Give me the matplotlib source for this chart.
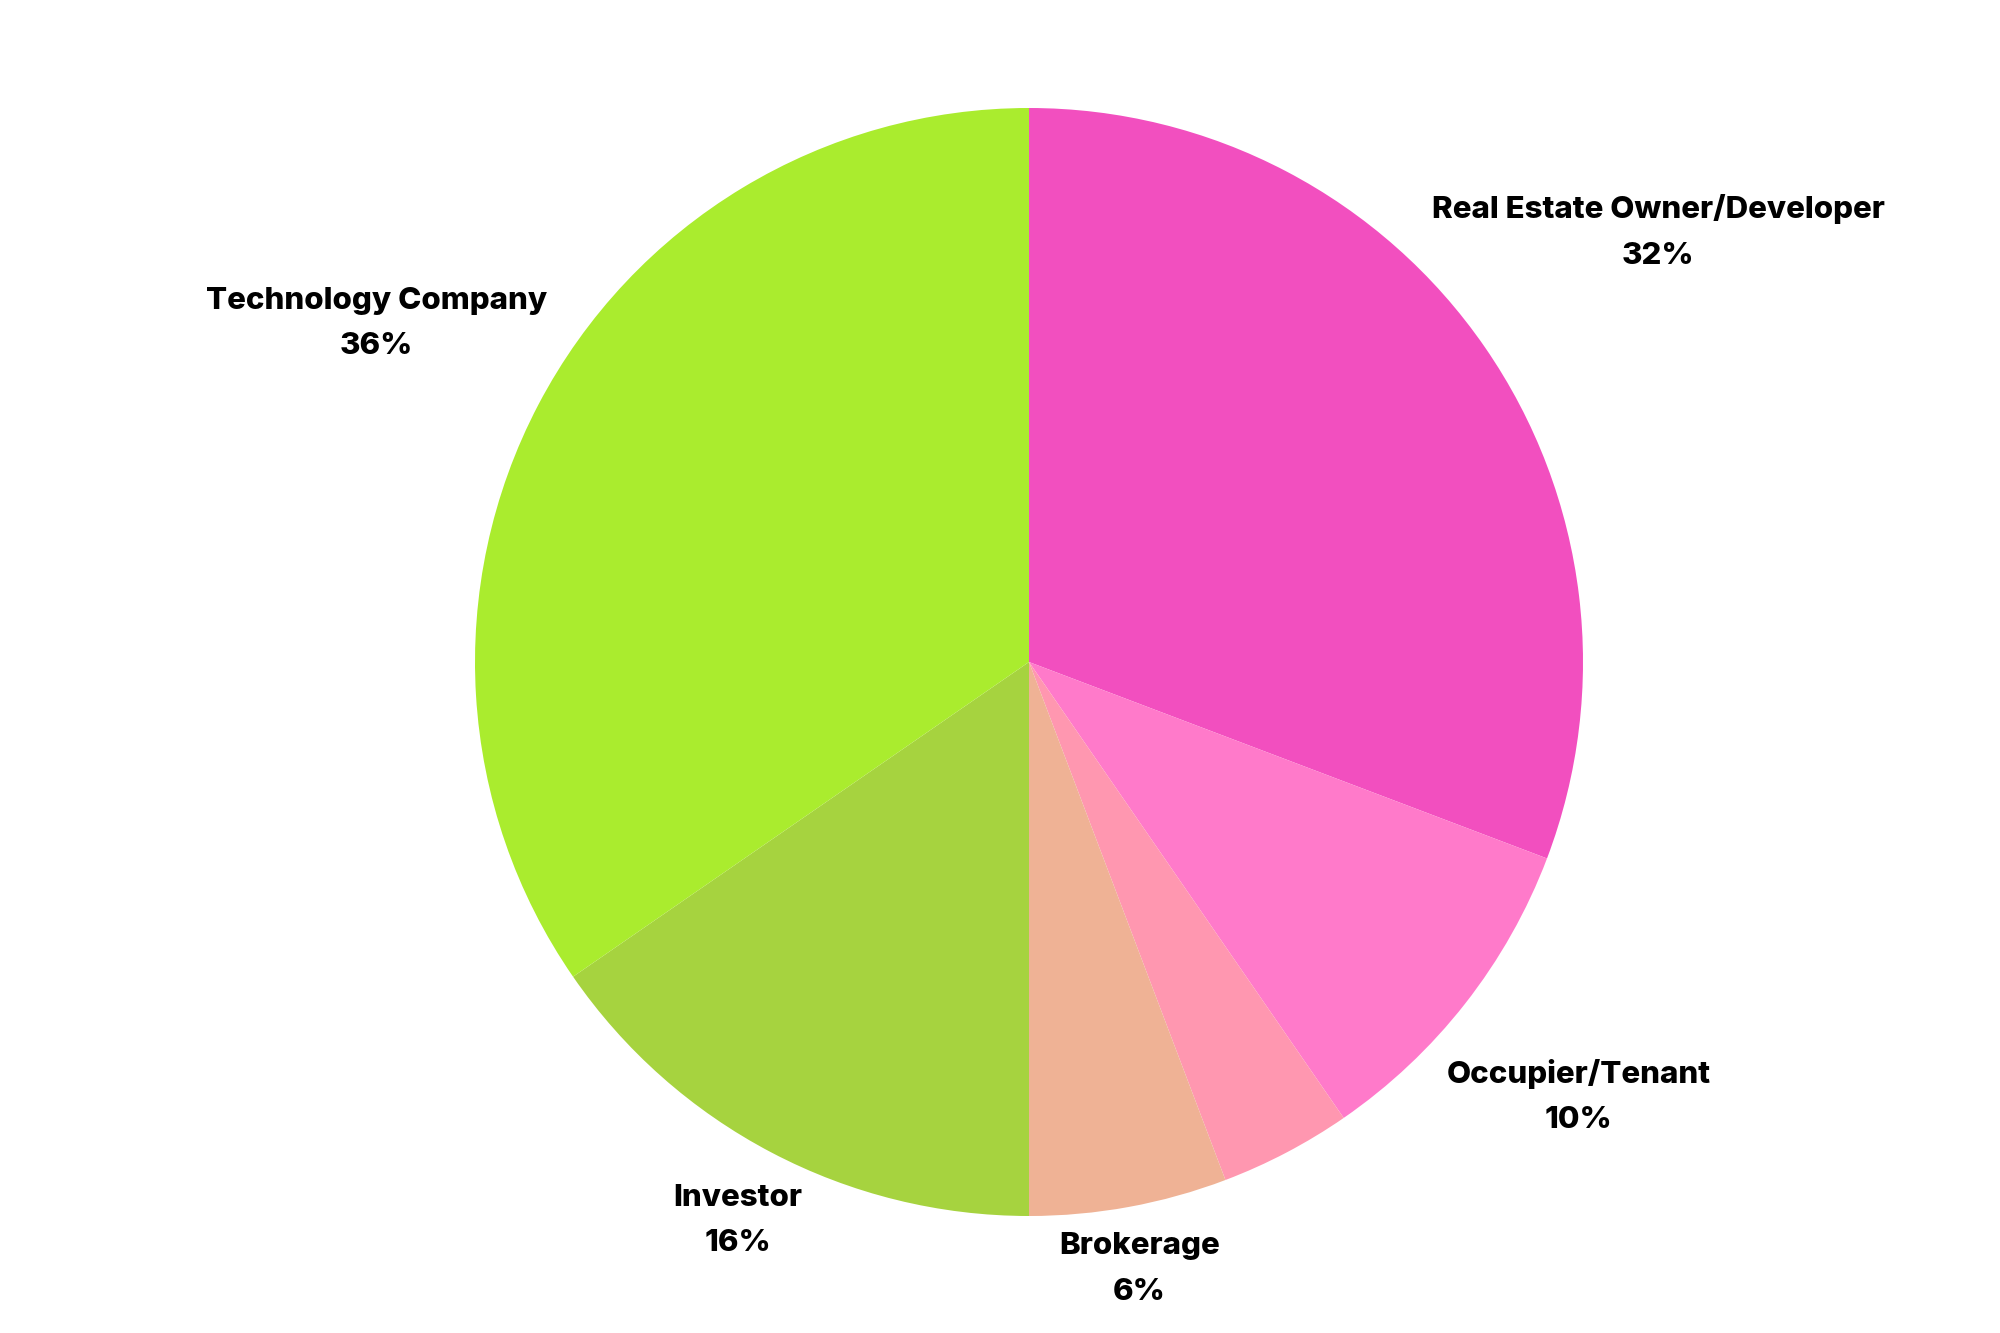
import numpy as np
import matplotlib
matplotlib.use("Agg")
import matplotlib.pyplot as plt

categories = ["Real Estate Owner/Developer", "Occupier/Tenant", "", "Brokerage", "Investor", "Technology Company"]
values = [16, 5, 2, 3, 8, 18]
pct_labels = ["32%", "10%", "", "6%", "16%", "36%"]
colors = ["#F24FBF", "#FF7ACA", "#FF97B0", "#EFB295", "#A6D33F", "#AAEC2E"]

plt.rcParams['font.family'] = ['Inter', 'DejaVu Sans']

fig = plt.figure(figsize=(20, 13.33), dpi=100)
ax = fig.add_axes([0, 0, 1, 1])

cx, cy, r = 1029, 1333 - 662, 554
wedges, _ = ax.pie(values, colors=colors, startangle=90, counterclock=False,
                   radius=r, center=(cx, cy), frame=True,
                   wedgeprops=dict(linewidth=0))
ax.set_xlim(0, 2000)
ax.set_ylim(0, 1333)
ax.set_aspect('equal')
ax.axis('off')

label_dist = [1.38, 1.26, 1.2, 1.107, 1.13, 1.33]
for w, cat, pct, d in zip(wedges, categories, pct_labels, label_dist):
    if not cat:
        continue
    mid = np.deg2rad((w.theta1 + w.theta2) / 2)
    x = cx + d * r * np.cos(mid)
    y = cy + d * r * np.sin(mid) - 4
    ax.text(x, y, f"{cat}\n{pct}", ha='center', va='center', fontsize=22.5,
            fontweight='heavy', linespacing=1.8, color='black')

fig.savefig("out.png", dpi=100, facecolor='white')
